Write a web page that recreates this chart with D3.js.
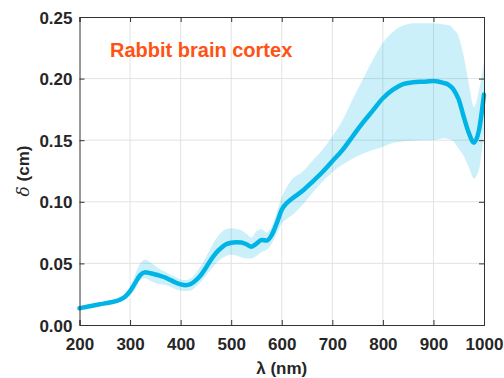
<!DOCTYPE html>
<html>
<head>
<meta charset="utf-8">
<script src="https://cdn.jsdelivr.net/npm/d3@7"></script>
<style>
  html, body { margin: 0; padding: 0; background: #fff; }
  svg { display: block; }
  text { font-family: "Liberation Sans", Arial, Helvetica, sans-serif; font-weight: bold; }
</style>
</head>
<body>
<svg id="chart" width="504" height="378"></svg>
<script>
// Penetration depth of rabbit brain cortex vs wavelength (mean and spread)
const wavelength = [200, 220, 240, 260, 280, 290, 300, 310, 320, 330, 340, 350, 360, 370, 380, 390,
  400, 410, 420, 430, 440, 450, 460, 470, 480, 490, 500, 510, 520, 530, 540, 550, 560, 570, 580, 590,
  600, 610, 620, 640, 660, 680, 700, 720, 740, 760, 780, 800, 820, 840, 860, 880, 900, 920, 930, 940,
  950, 960, 970, 980, 990, 1000];

const depthMean = [0.0136, 0.0152, 0.0168, 0.0183, 0.0205, 0.0230, 0.0275, 0.0340, 0.0405, 0.0428,
  0.0420, 0.0410, 0.0398, 0.0385, 0.0365, 0.0345, 0.0330, 0.0322, 0.0332, 0.0362, 0.0405, 0.0465,
  0.0530, 0.0585, 0.0625, 0.0655, 0.0668, 0.0672, 0.0670, 0.0655, 0.0635, 0.0660, 0.0690, 0.0685,
  0.0730, 0.0825, 0.0935, 0.0990, 0.1025, 0.1085, 0.1160, 0.1240, 0.1330, 0.1420, 0.1530, 0.1640,
  0.1740, 0.1840, 0.1910, 0.1955, 0.1970, 0.1975, 0.1980, 0.1965, 0.1950, 0.1910, 0.1830, 0.1690,
  0.1560, 0.1480, 0.1580, 0.1870];

const depthUpper = [0.0146, 0.0162, 0.0178, 0.0194, 0.0218, 0.0248, 0.0310, 0.0410, 0.0500, 0.0530,
  0.0510, 0.0480, 0.0450, 0.0430, 0.0410, 0.0390, 0.0370, 0.0365, 0.0380, 0.0420, 0.0480, 0.0550,
  0.0630, 0.0700, 0.0750, 0.0780, 0.0785, 0.0780, 0.0770, 0.0740, 0.0710, 0.0760, 0.0780, 0.0750,
  0.0800, 0.0910, 0.1040, 0.1120, 0.1180, 0.1240, 0.1330, 0.1420, 0.1530, 0.1660, 0.1830, 0.1990,
  0.2150, 0.2290, 0.2380, 0.2430, 0.2450, 0.2450, 0.2450, 0.2440, 0.2435, 0.2400, 0.2340, 0.2180,
  0.1960, 0.1770, 0.1900, 0.2140];

const depthLower = [0.0126, 0.0142, 0.0158, 0.0172, 0.0192, 0.0212, 0.0240, 0.0290, 0.0365, 0.0380,
  0.0360, 0.0340, 0.0330, 0.0325, 0.0310, 0.0290, 0.0280, 0.0275, 0.0280, 0.0310, 0.0350, 0.0400,
  0.0450, 0.0500, 0.0535, 0.0560, 0.0570, 0.0565, 0.0550, 0.0540, 0.0540, 0.0560, 0.0590, 0.0610,
  0.0660, 0.0740, 0.0825, 0.0860, 0.0890, 0.0970, 0.1070, 0.1160, 0.1240, 0.1300, 0.1350, 0.1390,
  0.1420, 0.1447, 0.1477, 0.1490, 0.1495, 0.1500, 0.1500, 0.1515, 0.1510, 0.1490, 0.1430, 0.1370,
  0.1280, 0.1190, 0.1260, 0.1580];

const xTicks = [200, 300, 400, 500, 600, 700, 800, 900, 1000];
const yTicks = [0.00, 0.05, 0.10, 0.15, 0.20, 0.25];
const titleText = "Rabbit brain cortex";

const svg = d3.select("#chart");
const plot = { left: 79.5, right: 484, top: 17, bottom: 325 };

const x = d3.scaleLinear().domain([200, 1000]).range([plot.left, plot.right]);
const y = d3.scaleLinear().domain([0, 0.25]).range([plot.bottom, plot.top]);

const axisColor = "#333333";
const gridColor = "#e3e3e3";

// grid
const grid = svg.append("g");
grid.selectAll("line.gx").data(xTicks.slice(1, -1)).join("line")
  .attr("x1", d => x(d)).attr("x2", d => x(d))
  .attr("y1", plot.top).attr("y2", plot.bottom)
  .attr("stroke", gridColor).attr("stroke-width", 1);
grid.selectAll("line.gy").data(yTicks.slice(1, -1)).join("line")
  .attr("x1", plot.left).attr("x2", plot.right)
  .attr("y1", d => y(d)).attr("y2", d => y(d))
  .attr("stroke", gridColor).attr("stroke-width", 1);

const rows = wavelength.map((w, i) => ({ w, m: depthMean[i], lo: depthLower[i], hi: depthUpper[i] }));

// spread band
svg.append("path")
  .datum(rows)
  .attr("d", d3.area().curve(d3.curveMonotoneX)
    .x(d => x(d.w)).y0(d => y(d.lo)).y1(d => y(d.hi)))
  .attr("fill", "#00b4e6").attr("fill-opacity", 0.2);

// mean curve
svg.append("path")
  .datum(rows)
  .attr("d", d3.line().curve(d3.curveMonotoneX).x(d => x(d.w)).y(d => y(d.m)))
  .attr("fill", "none").attr("stroke", "#00b4e6").attr("stroke-width", 4.5)
  .attr("stroke-linejoin", "round").attr("stroke-linecap", "round");

// axes (boxed, ticks pointing inward)
const xAxis = d3.axisBottom(x).tickValues(xTicks).tickSize(-5).tickPadding(13).tickFormat(d3.format("d"));
const yAxis = d3.axisLeft(y).tickValues(yTicks).tickSize(-5).tickPadding(7).tickFormat(d3.format(".2f"));

const gx = svg.append("g").attr("transform", `translate(0,${plot.bottom})`).call(xAxis);
const gy = svg.append("g").attr("transform", `translate(${plot.left},0)`).call(yAxis);
const gxTop = svg.append("g").attr("transform", `translate(0,${plot.top})`)
  .call(d3.axisTop(x).tickValues(xTicks).tickSize(-5).tickFormat(""));
const gyRight = svg.append("g").attr("transform", `translate(${plot.right},0)`)
  .call(d3.axisRight(y).tickValues(yTicks).tickSize(-5).tickFormat(""));

[gx, gy, gxTop, gyRight].forEach(g => {
  g.select(".domain").attr("stroke", axisColor).attr("stroke-width", 1);
  g.selectAll(".tick line").attr("stroke", axisColor);
  g.selectAll(".tick text").attr("fill", "#262626")
    .style("font-size", "17px").style("font-weight", "bold")
    .style("font-family", "'Liberation Sans', Arial, sans-serif");
});
gx.selectAll(".tick text").attr("dy", "0.71em");
gy.selectAll(".tick text").attr("dy", "0.36em");

// axis titles
svg.append("text")
  .attr("x", (plot.left + plot.right) / 2).attr("y", 374)
  .attr("text-anchor", "middle").attr("fill", "#262626")
  .style("font-size", "17px")
  .call(t => {
    t.append("tspan").text("λ");
    t.append("tspan").text(" (nm)");
  });

svg.append("text")
  .attr("transform", `translate(29,${(plot.top + plot.bottom) / 2}) rotate(-90)`)
  .attr("text-anchor", "middle").attr("fill", "#262626")
  .style("font-size", "17px")
  .call(t => {
    t.append("tspan").style("font-style", "italic").style("font-weight", "normal")
      .style("font-family", "'DejaVu Serif', 'Liberation Serif', serif").text("δ");
    t.append("tspan").text(" (cm)");
  });

// annotation
svg.append("text")
  .attr("x", 110).attr("y", 56.5)
  .attr("fill", "#ff5214")
  .style("font-size", "20px")
  .text(titleText);
</script>
</body>
</html>
